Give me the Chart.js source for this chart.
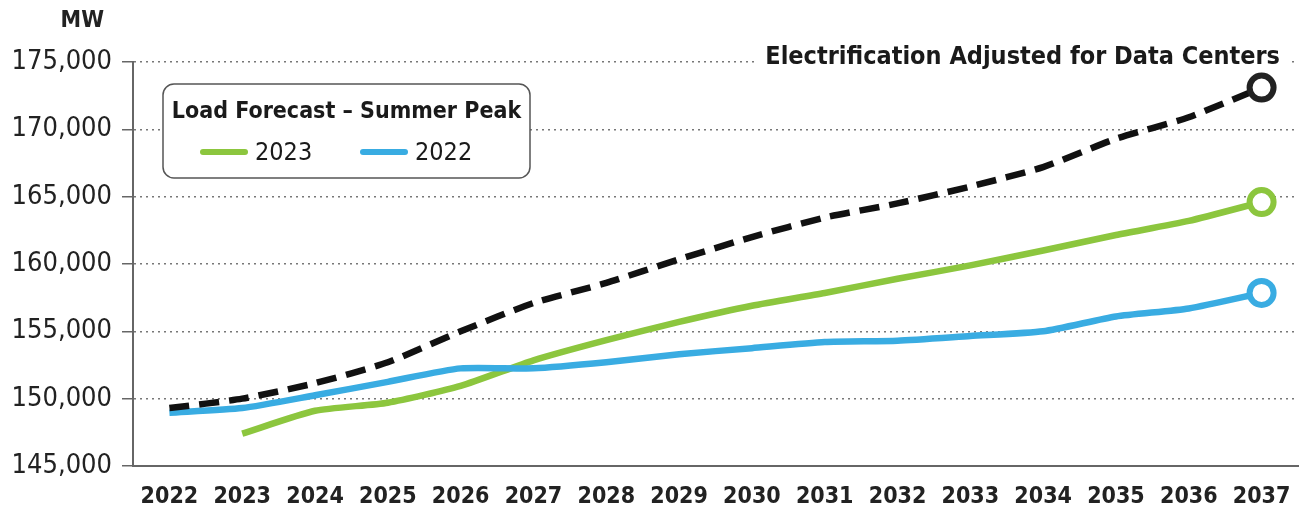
<!DOCTYPE html>
<html>
<head>
<meta charset="utf-8">
<script src="https://cdn.jsdelivr.net/npm/chart.js@4.4.0/dist/chart.umd.min.js"></script>
<style>
  html, body { margin: 0; padding: 0; background: #fff; }
  #wrap { width: 1316px; height: 514px; }
</style>
</head>
<body>
<div id="wrap"><canvas id="loadChart"></canvas></div>
<script>
const years = ['2022', '2023', '2024', '2025', '2026', '2027', '2028', '2029', '2030', '2031', '2032', '2033', '2034', '2035', '2036', '2037']
const forecast2023 = [null, 147400, 149100, 149700, 150950, 152850, 154350, 155700, 156900, 157850, 158900, 159900, 161000, 162150, 163200, 164600]
const forecast2022 = [148950, 149300, 150250, 151250, 152250, 152250, 152700, 153300, 153750, 154200, 154300, 154650, 155000, 156100, 156700, 157850]
const dataCenters = [149300, 150000, 151150, 152700, 155000, 157100, 158600, 160350, 162000, 163450, 164500, 165750, 167200, 169300, 170900, 173100]
const yMin = 145000
const yMax = 175000
const yStep = 5000

const FONT = '"DejaVu Sans Condensed", "Liberation Sans Narrow", sans-serif'
const GREEN = '#8cc63e'
const BLUE = '#39ace2'
const BLACK = '#111111'

function lastPointRadius(ctx){
  return ctx.dataIndex === years.length - 1 ? 12 : 0
}

// extra text: MW unit, top label, legend box
const annotations = {
  id: 'annotations',
  beforeDatasetsDraw(chart){
    const ctx = chart.ctx
    const area = chart.chartArea
    const yScale = chart.scales.y
    ctx.save()

    ctx.fillStyle = '#222'
    ctx.font = 'bold 23px ' + FONT
    ctx.textAlign = 'right'
    ctx.textBaseline = 'middle'
    ctx.fillText('MW', 104, 21)

    // label sitting on the top gridline
    const topY = yScale.getPixelForValue(yMax)
    ctx.font = 'bold 25px ' + FONT
    const label = 'Electrification Adjusted for Data Centers'
    const w = ctx.measureText(label).width
    const right = 1280
    ctx.fillStyle = '#fff'
    ctx.fillRect(right - w - 10, topY - 24, w + 20, 28)
    ctx.fillStyle = '#1a1a1a'
    ctx.textBaseline = 'alphabetic'
    ctx.fillText(label, right, topY + 2)

    // legend box
    const bx = area.left + 30
    const by = area.top + 22
    const bw = 367
    const bh = 94
    ctx.beginPath()
    ctx.roundRect(bx, by, bw, bh, 11)
    ctx.fillStyle = '#fff'
    ctx.fill()
    ctx.lineWidth = 1.5
    ctx.strokeStyle = '#555'
    ctx.stroke()

    ctx.fillStyle = '#1a1a1a'
    ctx.textAlign = 'center'
    ctx.textBaseline = 'middle'
    ctx.font = 'bold 23px ' + FONT
    ctx.fillText('Load Forecast \u2013 Summer Peak', bx + bw / 2, by + 28)

    const items = [chart.data.datasets[0], chart.data.datasets[1]]
    const starts = [bx + 40, bx + 200]
    ctx.font = '25px ' + FONT
    ctx.textAlign = 'left'
    items.forEach((ds, i) => {
      const x = starts[i]
      const y = by + 68
      ctx.beginPath()
      ctx.moveTo(x, y)
      ctx.lineTo(x + 42, y)
      ctx.lineWidth = 6
      ctx.lineCap = 'round'
      ctx.strokeStyle = ds.borderColor
      ctx.stroke()
      ctx.fillStyle = '#1a1a1a'
      ctx.fillText(ds.label, x + 52, y + 1)
    })
    ctx.restore()
  }
}

const config = {
  type: 'line',
  data: {
    labels: years,
    datasets: [
      {
        label: '2023',
        data: forecast2023,
        borderColor: GREEN,
        borderWidth: 6.5,
        pointRadius: lastPointRadius,
        pointBorderWidth: 6,
        pointBackgroundColor: '#fff',
        pointBorderColor: GREEN,
        tension: 0.2,
        order: 3
      },
      {
        label: '2022',
        data: forecast2022,
        borderColor: BLUE,
        borderWidth: 6.5,
        pointRadius: lastPointRadius,
        pointBorderWidth: 6,
        pointBackgroundColor: '#fff',
        pointBorderColor: BLUE,
        tension: 0.2,
        order: 2
      },
      {
        label: 'Electrification Adjusted for Data Centers',
        data: dataCenters,
        borderColor: BLACK,
        borderWidth: 6.5,
        borderDash: [20, 10],
        pointRadius: lastPointRadius,
        pointBorderWidth: 6,
        pointBackgroundColor: '#fff',
        pointBorderColor: '#222',
        tension: 0.2,
        order: 1
      }
    ]
  },
  options: {
    responsive: true,
    maintainAspectRatio: false,
    animation: false,
    layout: { padding: { top: 62, right: 0, left: 0, bottom: 0 } },
    plugins: {
      legend: { display: false },
      tooltip: { enabled: false }
    },
    scales: {
      x: {
        offset: true,
        grid: { drawOnChartArea: false, drawTicks: false },
        border: { display: true, color: '#666', width: 2 },
        ticks: {
          color: '#222',
          padding: 17,
          maxRotation: 0,
          autoSkip: false,
          font: { family: FONT, size: 23, weight: 'bold' }
        },
        afterFit(scale){ scale.height = 48 }
      },
      y: {
        min: yMin,
        max: yMax,
        grid: {
          color: '#777',
          lineWidth: 1.5,
          tickColor: '#666',
          tickLength: 11,
          tickWidth: 1.5
        },
        border: { display: true, color: '#666', width: 2, dash: [2, 4] },
        ticks: {
          stepSize: yStep,
          color: '#222',
          padding: 10,
          font: { family: FONT, size: 27 },
          callback: v => v.toLocaleString('en-US')
        },
        afterFit(scale){ scale.width = 133 }
      }
    }
  },
  plugins: [annotations]
}

document.addEventListener('DOMContentLoaded', () => {
  new Chart(document.getElementById('loadChart').getContext('2d'), config)
})
</script>
</body>
</html>
